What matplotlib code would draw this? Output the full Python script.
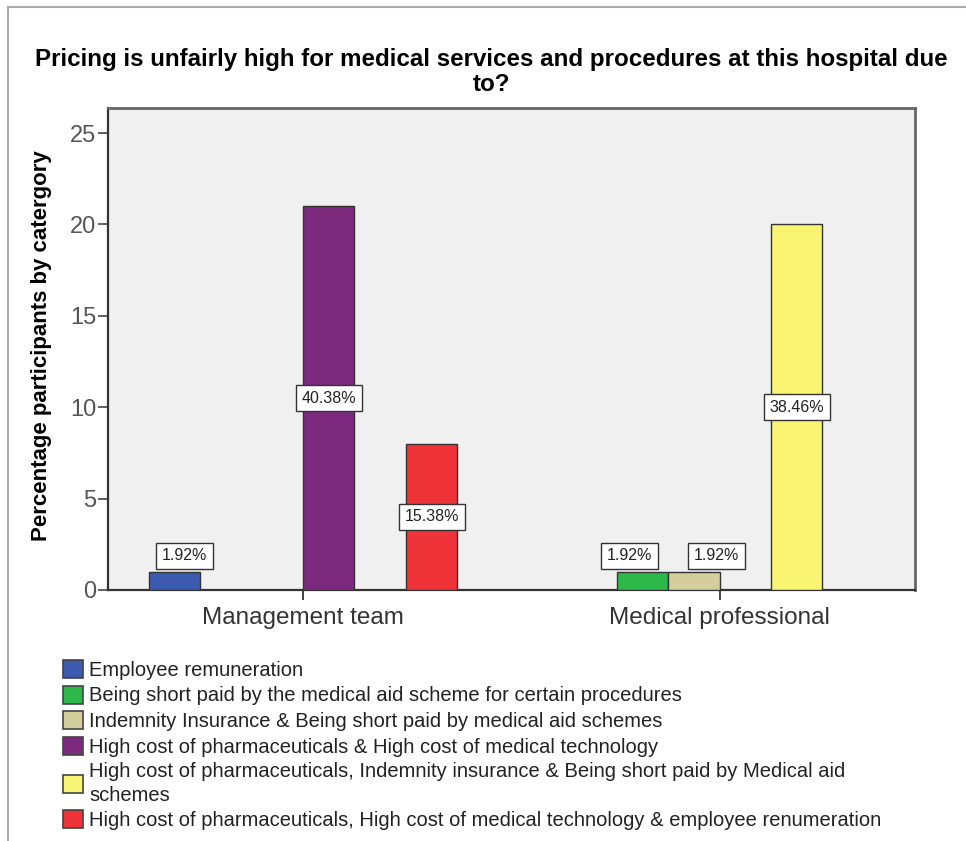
import matplotlib
matplotlib.use("Agg")
import matplotlib.pyplot as plt
from matplotlib.patches import Patch
from matplotlib.lines import Line2D
import numpy as np

plt.rcParams['font.family'] = ['Liberation Sans', 'DejaVu Sans']

title = "Pricing is unfairly high for medical services and procedures at this hospital due\nto?"
ylabel = "Percentage participants by catergory"
groups = ["Management team", "Medical professional"]
categories = [
    "Employee remuneration",
    "Being short paid by the medical aid scheme for certain procedures",
    "Indemnity Insurance & Being short paid by medical aid schemes",
    "High cost of pharmaceuticals & High cost of medical technology",
    "High cost of pharmaceuticals, Indemnity insurance & Being short paid by Medical aid\nschemes",
    "High cost of pharmaceuticals, High cost of medical technology & employee renumeration",
]
colors = ["#3C5AAF", "#2DB84A", "#D3CE9C", "#7B2A7D", "#F9F573", "#EE3339"]
# counts per category for each group
management = [1, 0, 0, 21, 0, 8]
medical = [0, 1, 1, 0, 20, 0]
management_pct = ["1.92%", "", "", "40.38%", "", "15.38%"]
medical_pct = ["", "1.92%", "1.92%", "", "38.46%", ""]
yticks = [0, 5, 10, 15, 20, 25]

W, H = 966, 841
fig = plt.figure(figsize=(W / 100, H / 100), dpi=100)
ax = fig.add_axes([108 / W, 1 - 590 / H, (915 - 108) / W, (590 - 108) / H])
ax.set_facecolor("#F0F0F0")

w = 0.1234
x = np.arange(len(groups))
data = [management, medical]
pcts = [management_pct, medical_pct]
# label pixel offsets (x) for small bars to avoid overlap, as in the reference
small_dx = {(0, 0): 10, (1, 1): -13, (1, 2): 23}

for gi in range(len(groups)):
    for ci in range(len(categories)):
        v = data[gi][ci]
        if v == 0:
            continue
        xc = x[gi] + (ci - 2.5) * w
        ax.bar(xc, v, width=w, color=colors[ci], edgecolor="#333333", linewidth=1.0, zorder=3)
        lab = pcts[gi][ci]
        box = dict(boxstyle="square,pad=0.36", fc="white", ec="#333333", lw=1.0)
        if v >= 5:
            ax.annotate(lab, (xc, v / 2), ha="center", va="center", fontsize=11.5,
                        color="#222222", bbox=box, zorder=5)
        else:
            dx = small_dx.get((gi, ci), 0)
            ax.annotate(lab, (xc, v), xytext=(dx * 0.72, 6), textcoords="offset points",
                        ha="center", va="bottom", fontsize=11.5, color="#222222",
                        bbox=box, zorder=5)

ax.set_xlim(-0.468, 1.469)
ax.set_ylim(0, 26.37)
ax.set_yticks(yticks)
ax.set_yticklabels([str(t) for t in yticks], fontsize=17, color="#555555")
ax.set_xticks(x)
ax.set_xticklabels(groups, fontsize=17.5, color="#333333")
ax.tick_params(axis="y", direction="out", length=7.5, width=1.2, color="#444444", pad=1)
ax.tick_params(axis="x", direction="out", length=7, width=1.2, color="#222222", pad=5)
for s in ["left", "bottom"]:
    ax.spines[s].set_color("#333333")
    ax.spines[s].set_linewidth(1.6)
for s in ["top", "right"]:
    ax.spines[s].set_color("#666666")
    ax.spines[s].set_linewidth(2.0)

fig.text(42 / W, 1 - 346 / H, ylabel, rotation=90, ha="center", va="center",
         fontsize=16, fontweight="bold")
fig.text(491 / W, 1 - 72 / H, title, ha="center", va="center", fontsize=17.4,
         fontweight="bold", linespacing=1.15)

handles = [Patch(facecolor=c, edgecolor="#444444", linewidth=1.2) for c in colors]
leg = fig.legend(handles, categories, loc="upper left", bbox_to_anchor=(63 / W, 1 - 660 / H),
                 frameon=False, fontsize=14.5, handlelength=1.0, handleheight=1.0,
                 handletextpad=0.3, labelspacing=0.28, borderaxespad=0, borderpad=0,
                 labelcolor="#222222")
for t in leg.get_texts():
    t.set_linespacing(1.3)

# outer frame lines
fig.add_artist(Line2D([8 / W, 8 / W], [0, 1 - 7 / H], color="#AAAAAA", lw=1.5))
fig.add_artist(Line2D([8 / W, 1], [1 - 7 / H, 1 - 7 / H], color="#AAAAAA", lw=1.5))

fig.savefig("out.png", dpi=100, facecolor="white")
